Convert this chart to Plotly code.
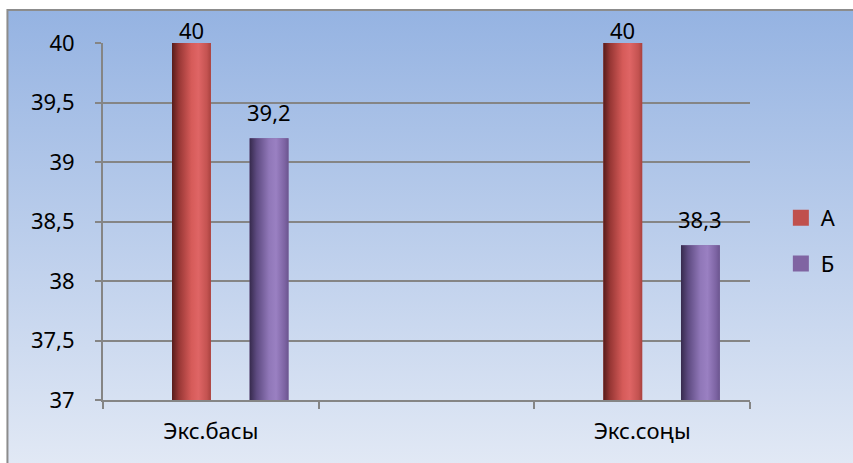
import base64
import plotly.graph_objects as go

# ---- data ----
categories = ["Экс.басы", " ", "Экс.соңы"]
series_names = ["А", "Б"]
values_a = [40, None, 40]
values_b = [39.2, None, 38.3]
y_ticks = [37, 37.5, 38, 38.5, 39, 39.5, 40]

# ---- styling ----
W, H = 853, 463
M_L, M_R, M_T, M_B = 103, 100, 43, 63
PW, PH = W - M_L - M_R, H - M_T - M_B
FONT = "Noto Sans"
FS = 22
GRID = "#858585"

bar_width = 0.18
offsets = [-0.18, 0.18]
solid = ["#c0504d", "#8064a2"]
shades = [
    [[0, "#571c1b"], [0.18, "#983735"], [0.5, "#d65b59"], [0.68, "#df6565"],
     [0.9, "#c45351"], [1, "#a9423f"]],
    [[0, "#362a4d"], [0.18, "#5d4a80"], [0.5, "#9077b8"], [0.68, "#9a80c2"],
     [0.9, "#7d64a3"], [1, "#6b558f"]],
]
series_values = [values_a, values_b]
y_min, y_max = y_ticks[0], y_ticks[-1]


def px_x(x):
    return (x - M_L) / PW


def px_y(y):
    return (H - M_B - y) / PH


def fmt(v):
    return f"{v:g}".replace(".", ",")


fig = go.Figure()

# solid bars
for name, vals, off, col in zip(series_names, series_values, offsets, solid):
    fig.add_trace(go.Bar(
        x=categories, y=vals, name=name, offset=off, width=bar_width,
        marker=dict(color=col, line=dict(width=0)),
        showlegend=False, hoverinfo="skip",
    ))

# cylinder-like shading drawn over each bar on a hidden linear x axis
for vals, off, scale in zip(series_values, offsets, shades):
    for i, v in enumerate(vals):
        if v is None:
            continue
        x0, x1 = i + off, i + off + bar_width
        fig.add_trace(go.Scatter(
            x=[x0, x1, x1, x0, x0], y=[y_min, y_min, v, v, y_min],
            xaxis="x2", yaxis="y", mode="lines", line=dict(width=0),
            fill="toself",
            fillgradient=dict(type="horizontal", colorscale=scale),
            showlegend=False, hoverinfo="skip",
        ))

# legend swatches: square markers in the series colours
for name, col in zip(series_names, solid):
    fig.add_trace(go.Scatter(
        x=[None], y=[None], name=name, mode="markers",
        marker=dict(symbol="square", size=16, color=col),
        legendgroup=name, hoverinfo="skip",
    ))

# value labels above the bars
for vals, off in zip(series_values, offsets):
    for i, v in enumerate(vals):
        if v is None:
            continue
        fig.add_annotation(
            x=i + off + bar_width / 2, y=v, xref="x2", yref="y",
            text=fmt(v), showarrow=False, yanchor="middle",
            yshift=13 if v >= y_max else 26,
            font=dict(family=FONT, size=FS, color="#000000"),
        )

# chart area gradient background
svg = (
    '<svg xmlns="http://www.w3.org/2000/svg" width="100" height="100" '
    'preserveAspectRatio="none">'
    '<defs><linearGradient id="g" x1="0" y1="0" x2="0" y2="1">'
    '<stop offset="0" stop-color="#95b3e2"/>'
    '<stop offset="1" stop-color="#e2e9f5"/>'
    '</linearGradient></defs>'
    '<rect width="100" height="100" fill="url(#g)"/></svg>'
)
src = "data:image/svg+xml;base64," + base64.b64encode(svg.encode()).decode()
fig.add_layout_image(
    source=src, xref="paper", yref="paper",
    x=px_x(7), y=px_y(10), sizex=(W + 5 - 7) / PW, sizey=(H + 5 - 10) / PH,
    xanchor="left", yanchor="top", sizing="stretch", layer="below",
)
fig.add_shape(
    type="rect", xref="paper", yref="paper",
    x0=px_x(7), x1=px_x(W + 10), y0=px_y(H + 10), y1=px_y(10),
    line=dict(color="#8c8c8c", width=2), fillcolor="rgba(0,0,0,0)",
    layer="below",
)

fig.update_layout(
    width=W, height=H,
    margin=dict(l=M_L, r=M_R, t=M_T, b=M_B),
    paper_bgcolor="#ffffff", plot_bgcolor="rgba(0,0,0,0)",
    separators=", ",
    barmode="overlay",
    font=dict(family=FONT, size=FS, color="#000000"),
    xaxis=dict(
        type="category", categoryorder="array", categoryarray=categories,
        range=[-0.5, len(categories) - 0.5], tickson="boundaries",
        ticks="outside", ticklen=7, tickwidth=2, tickcolor=GRID,
        showline=True, linecolor=GRID, linewidth=2,
        showgrid=False, ticklabelstandoff=11,
        tickfont=dict(family=FONT, size=FS),
    ),
    xaxis2=dict(
        overlaying="x", range=[-0.5, len(categories) - 0.5],
        visible=False, fixedrange=True,
    ),
    yaxis=dict(
        range=[y_min, y_max], tickvals=y_ticks,
        ticks="outside", ticklen=6, tickwidth=2, tickcolor=GRID,
        showline=True, linecolor=GRID, linewidth=2,
        showgrid=True, gridcolor=GRID, gridwidth=2,
        zeroline=False, ticklabelstandoff=16,
        tickfont=dict(family=FONT, size=FS),
    ),
    legend=dict(
        x=px_x(784), y=px_y(197), xanchor="left", yanchor="top",
        bgcolor="rgba(0,0,0,0)", traceorder="grouped", tracegroupgap=14,
        font=dict(family=FONT, size=FS), itemwidth=30,
    ),
    showlegend=True,
)

fig.write_html("out.html")
